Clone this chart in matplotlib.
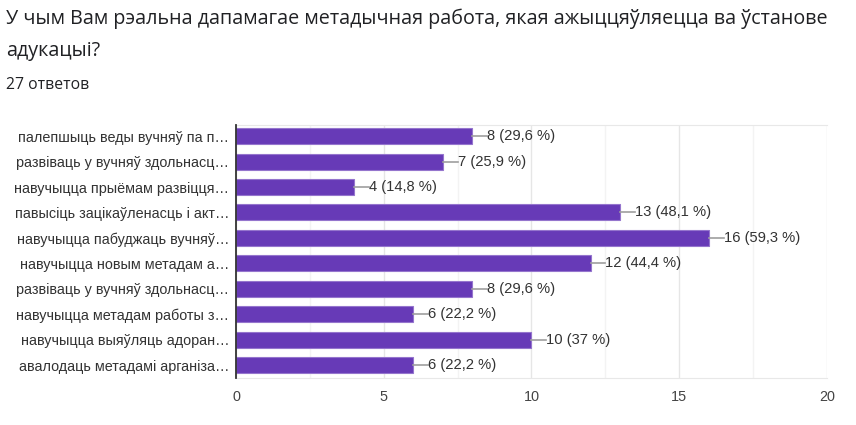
import numpy as np
from matplotlib import pyplot as plt

# answers (truncated as in the form summary)
labels = ['палепшыць веды вучняў па п…',
          'развіваць у вучняў здольнасц…',
          'навучыцца прыёмам развіцця…',
          'павысіць зацікаўленасць і акт…',
          'навучыцца пабуджаць вучняў…',
          'навучыцца новым метадам а…',
          'развіваць у вучняў здольнасц…',
          'навучыцца метадам работы з…',
          'навучыцца выяўляць адоран…',
          'авалодаць метадамі арганіза…']
counts = [8, 7, 4, 13, 16, 12, 8, 6, 10, 6]
percents = ['29,6', '25,9', '14,8', '48,1', '59,3', '44,4', '29,6', '22,2', '37', '22,2']
total = 27

bar_color = '#673ab7'
text_color = '#333333'

fig = plt.figure(figsize=(8.56, 4.25), dpi=100)
ax = fig.add_axes([0.2757, 0.1106, 0.6904, 0.5953])

y = np.arange(len(labels))
ax.barh(y, counts, height=0.63, color=bar_color, edgecolor='#9575cd', linewidth=0.8, zorder=3)

# value labels with a short leader line
for yi, c, p in zip(y, counts, percents):
    ax.plot([c, c + 0.5], [yi, yi], color='#9e9e9e', lw=1.2, zorder=3)
    ax.text(c + 0.5, yi, f'{c} ({p} %)', va='center', ha='left',
            fontsize=10.6, color=text_color, family='Liberation Sans')

ax.set_xlim(0, 20)
ax.set_ylim(len(labels) - 0.49, -0.44)
ax.set_xticks([0, 5, 10, 15, 20])
ax.set_xticks([2.5, 7.5, 12.5, 17.5], minor=True)
ax.xaxis.grid(True, which='major', color='#e6e6e6', lw=1, zorder=0)
ax.xaxis.grid(True, which='minor', color='#f3f3f3', lw=1, zorder=0)
ax.set_yticks(y)
ax.set_yticklabels(labels, fontsize=10.4, color=text_color, family='Liberation Sans')
ax.tick_params(axis='both', which='both', length=0)
ax.tick_params(axis='x', pad=9, labelsize=10.4, labelcolor='#444444')
ax.tick_params(axis='y', pad=5)
for lab in ax.get_xticklabels():
    lab.set_family('Liberation Sans')

for side in ['top', 'bottom', 'right']:
    ax.spines[side].set_color('#e8e8e8')
ax.spines['right'].set_visible(False)
ax.spines['left'].set_color('#333333')
ax.spines['left'].set_linewidth(1.3)
ax.spines['left'].set_zorder(4)

fig.text(0.007, 0.955, 'У чым Вам рэальна дапамагае метадычная работа, якая ажыццяўляецца ва ўстанове',
         fontsize=14.2, color='#202124', family='Open Sans', va='center')
fig.text(0.007, 0.880, 'адукацыі?', fontsize=14.2, color='#202124', family='Open Sans', va='center')
fig.text(0.007, 0.800, f'{total} ответов', fontsize=11.3, color='#202124', family='Open Sans', va='center')

fig.savefig('out.png', dpi=100)
